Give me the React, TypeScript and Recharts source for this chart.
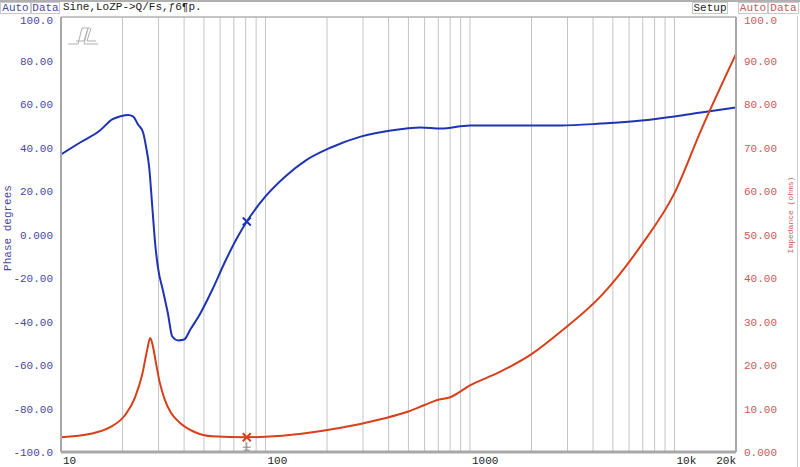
import {
    LineChart, Line, XAxis, YAxis, CartesianGrid, ReferenceDot, ReferenceLine
} from "recharts"

// phase trace (blue, left axis)
const phaseFreq = [10, 12.4, 15.5, 17.8, 19.5, 21.3, 22.5, 23.8, 25.2, 26.1, 27, 27.9, 28.9, 29.8, 31.6, 33.4, 35, 37.5, 40, 42.9, 48, 55, 63.5, 72.8, 81.6, 100, 125, 157, 209, 292, 410, 575, 720, 1000, 1980, 2780, 4370, 6900, 10000, 13500, 20000]
const phaseDeg = [36.8, 42.3, 47.8, 52.9, 54.3, 55.0, 54.3, 50.6, 46.9, 40, 30.8, 13.8, -4.6, -15.2, -26.2, -36.8, -46.9, -48.7, -48.3, -43.7, -36.3, -25.3, -12.4, -1.4, 6.4, 17.5, 26.7, 34, 40, 45, 47.8, 49.2, 48.7, 50.1, 50.1, 50.1, 51, 52.4, 54.3, 56.1, 58.4]

// impedance trace (red, right axis)
const impFreq = [10, 14, 17.4, 20.6, 23, 25, 26.4, 27.3, 28.1, 29, 30.4, 32.2, 34.5, 38, 45, 55, 80, 100, 150, 230, 370, 500, 600, 700, 800, 1000, 1400, 2000, 2800, 4400, 6900, 10000, 13500, 20000]
const impOhms = [3.4, 4.2, 5.7, 8.5, 12.5, 18, 23.5, 26.2, 24.5, 21, 16, 12, 9, 6.8, 4.6, 3.6, 3.4, 3.5, 4.2, 5.5, 7.6, 9.3, 10.8, 12, 12.6, 15.3, 18.4, 22.5, 27.8, 36, 47.6, 59.5, 74, 91.5]

// cursor
const cursorFreq = 81
const cursorPhase = 6
const cursorImp = 3.4

const xGridTicks = [10, 20, 30, 40, 50, 60, 70, 80, 90, 100, 200, 300, 400, 500, 600, 700, 800, 900, 1000, 2000, 3000, 4000, 5000, 6000, 7000, 8000, 9000, 10000, 20000]
const xTickLabels: Record<number, string> = { 10: "10", 100: "100", 1000: "1000", 10000: "10k", 20000: "20k" }

const leftTicks = [-100, -80, -60, -40, -20, 0, 20, 40, 60, 80, 100]
const leftTickLabels = ["-100.0", "-80.00", "-60.00", "-40.00", "-20.00", "0.000", "20.00", "40.00", "60.00", "80.00", "100.0"]
const rightTicks = [0, 10, 20, 30, 40, 50, 60, 70, 80, 90, 100]
const rightTickLabels = ["0.000", "10.00", "20.00", "30.00", "40.00", "50.00", "60.00", "70.00", "80.00", "90.00", "100.0"]

const phaseData = phaseFreq.map((f, i) => ({ f, phase: phaseDeg[i] }))
const impData = impFreq.map((f, i) => ({ f, imp: impOhms[i] }))

const MONO = "'Liberation Mono', 'DejaVu Sans Mono', monospace"
const BLUE = "#1e34b4"
const RED = "#d8401c"
const GRID = "#c4c4c4"
const FRAME = "#a8a8a8"
const LBLUE = "#4848a0"
const LRED = "#c85a5a"

const XTick = (p: any) => {
    const v = p.payload.value
    const label = xTickLabels[v]
    if (!label) return <g />
    const end = v === 20000
    return (
        <text x={end ? p.x : p.x + 2} y={p.y + 4} textAnchor={end ? "end" : "start"}
            fontFamily={MONO} fontSize={11} fill="#222">{label}</text>
    )
}

const LeftTick = (p: any) => {
    const i = leftTicks.indexOf(p.payload.value)
    const y = p.payload.value === 100 ? p.y + 7 : p.y + 4
    return <text x={p.x} y={y} textAnchor="end" fontFamily={MONO} fontSize={11} fill={LBLUE}>{leftTickLabels[i]}</text>
}

const RightTick = (p: any) => {
    const i = rightTicks.indexOf(p.payload.value)
    const y = p.payload.value === 100 ? p.y + 7 : p.y + 4
    return <text x={p.x} y={y} textAnchor="start" fontFamily={MONO} fontSize={11} fill={LRED}>{rightTickLabels[i]}</text>
}

const Cross = (color: string, below?: boolean) => (p: any) => (
    <g>
        <path d={`M${p.cx - 4},${p.cy - 4}L${p.cx + 4},${p.cy + 4}M${p.cx + 4},${p.cy - 4}L${p.cx - 4},${p.cy + 4}`}
            stroke={color} strokeWidth={2} fill="none" />
        {below && (
            <path d={`M${p.cx},${p.cy + 5}V${p.cy + 13}M${p.cx - 4},${p.cy + 10}H${p.cx + 4}M${p.cx - 3},${p.cy + 13}H${p.cx + 3}`}
                stroke="#888" strokeWidth={1} fill="none" />
        )}
    </g>
)

const box = (left: number, width: number, color: string, text: string) => (
    <div style={{
        position: "absolute", left, top: 2, width, height: 12, border: "1px solid #c8c8c8",
        boxSizing: "border-box", fontFamily: MONO, fontSize: 11, lineHeight: "11px",
        color, textAlign: "center"
    }}>{text}</div>
)

export default function App() {
    return (
        <div style={{ position: "relative", width: 800, height: 467, background: "#fff", overflow: "hidden" }}>
            <style>{`body{margin:0}`}</style>
            <div style={{ position: "absolute", left: 0, top: 0, width: 800, height: 2, background: "#b0b0b0" }} />
            {box(0, 31, LBLUE, "Auto")}
            {box(31, 29, LBLUE, "Data")}
            <div style={{
                position: "absolute", left: 63, top: 2, fontFamily: MONO, fontSize: 11,
                lineHeight: "11px", color: "#222"
            }}>Sine,LoZP-&gt;Q/Fs,ƒ6¶p.</div>
            {box(692, 36, "#222", "Setup")}
            {box(738, 30, LRED, "Auto")}
            {box(768, 31, LRED, "Data")}
            <div style={{ position: "absolute", left: 797, top: 16, width: 1, height: 451, background: "#d0d0d0" }} />

            <LineChart width={800} height={467} margin={{ top: 17, right: 0, left: 0, bottom: 0 }}>
                <CartesianGrid stroke={GRID} strokeWidth={1} />
                <XAxis dataKey="f" type="number" scale="log" domain={[10, 20000]} allowDataOverflow
                    ticks={xGridTicks} interval={0} tick={XTick} tickLine={false} height={15}
                    axisLine={{ stroke: FRAME, strokeWidth: 3 }} />
                <YAxis yAxisId="phase" orientation="left" type="number" domain={[-100, 100]}
                    ticks={leftTicks} interval={0} width={61} tick={LeftTick} tickLine={false}
                    axisLine={{ stroke: FRAME, strokeWidth: 2 }} />
                <YAxis yAxisId="imp" orientation="right" type="number" domain={[0, 100]}
                    ticks={rightTicks} interval={0} width={64} tick={RightTick} tickLine={false}
                    axisLine={{ stroke: FRAME, strokeWidth: 2 }} />
                <ReferenceLine yAxisId="phase" y={100} stroke={FRAME} strokeWidth={1} />
                <Line yAxisId="phase" data={phaseData} dataKey="phase" type="monotone" stroke={BLUE}
                    strokeWidth={2} dot={false} isAnimationActive={false} />
                <Line yAxisId="imp" data={impData} dataKey="imp" type="monotone" stroke={RED}
                    strokeWidth={2} dot={false} isAnimationActive={false} />
                <ReferenceDot yAxisId="phase" x={cursorFreq} y={cursorPhase} r={4} shape={Cross(BLUE)} />
                <ReferenceDot yAxisId="imp" x={cursorFreq} y={cursorImp} r={4} shape={Cross(RED, true)} />
            </LineChart>

            <svg style={{ position: "absolute", left: 0, top: 0 }} width={800} height={467}>
                <text transform="translate(11,228) rotate(-90)" textAnchor="middle"
                    fontFamily={MONO} fontSize={11} fill={LBLUE}>Phase degrees</text>
                <text transform="translate(793,215) rotate(-90)" textAnchor="middle"
                    fontFamily={MONO} fontSize={8} fill={LRED}>Impedance (ohms)</text>
                <path transform="translate(66,24)" d="M2,20 L12,20 L16,4 L24,4 M10,17 L18,17 L21,7 M22,4 L18,20 L32,20 M25,4 L21,17 L30,17"
                    stroke="#b0b0b0" strokeWidth={1} fill="none" />
            </svg>
        </div>
    )
}
